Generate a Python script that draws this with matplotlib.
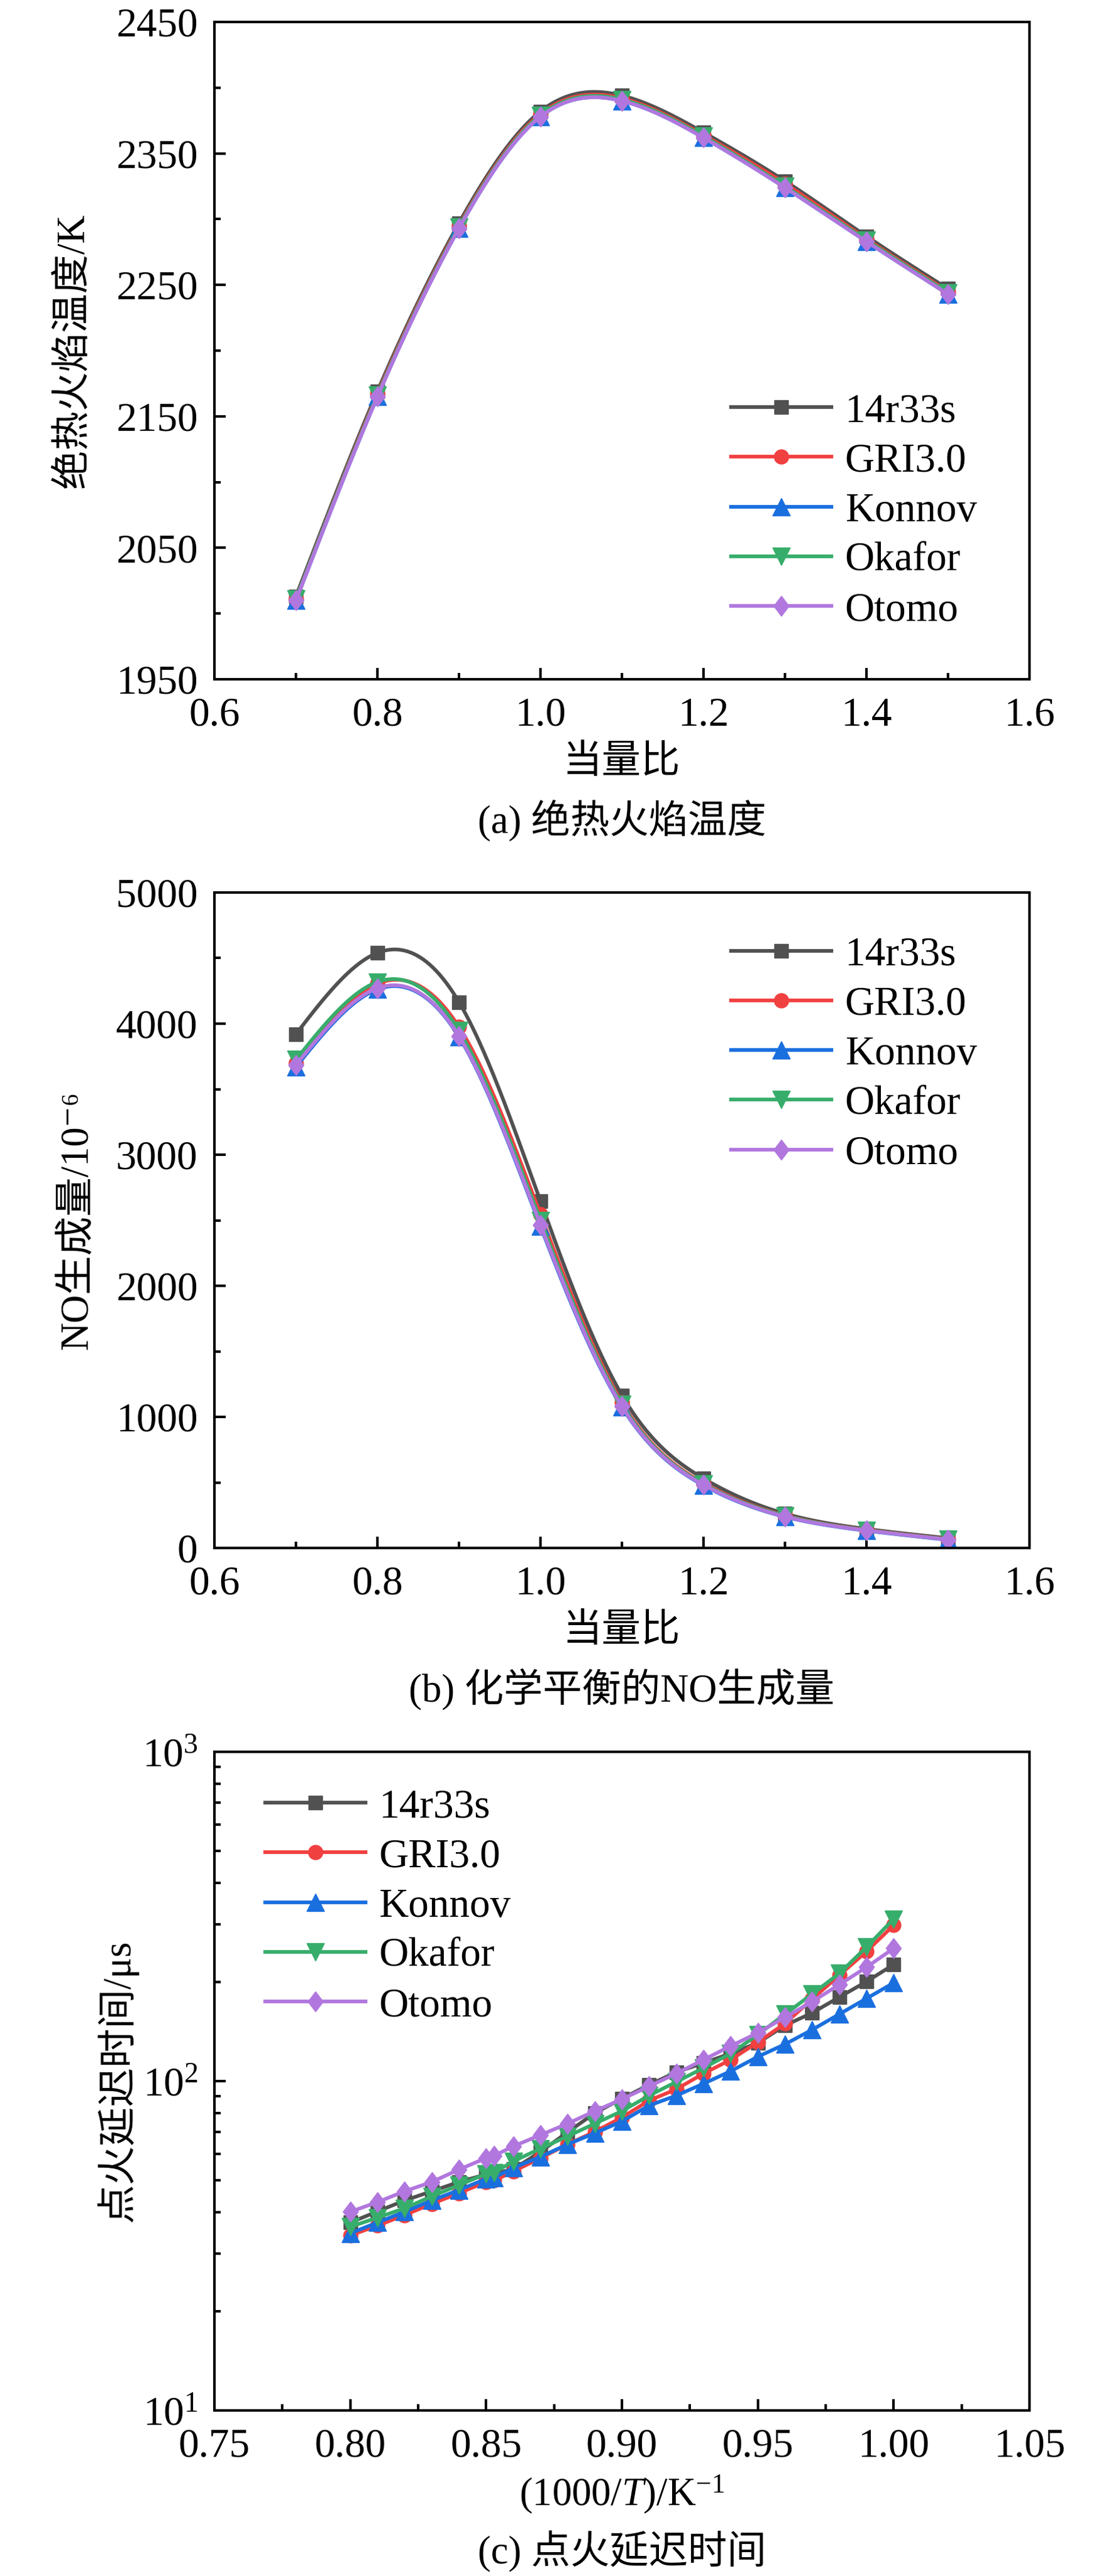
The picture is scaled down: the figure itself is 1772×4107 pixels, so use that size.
import numpy as np
import matplotlib
matplotlib.use('Agg')
from matplotlib import pyplot as plt
from matplotlib.lines import Line2D
from matplotlib.ticker import MultipleLocator, FormatStrFormatter, LogLocator, NullFormatter

plt.rcParams['font.family'] = ['Liberation Serif', 'DejaVu Serif', 'Noto Sans CJK SC']
plt.rcParams['mathtext.fontset'] = 'custom'
plt.rcParams['mathtext.rm'] = 'Liberation Serif'
plt.rcParams['mathtext.it'] = 'Liberation Serif:italic'

# ---- data ----
names = ['14r33s', 'GRI3.0', 'Konnov', 'Okafor', 'Otomo']

phi = [0.7, 0.8, 0.9, 1.0, 1.1, 1.2, 1.3, 1.4, 1.5]

# (a) adiabatic flame temperature, K
temp_14r33s = [2013, 2169, 2297, 2382, 2394, 2366, 2329, 2287, 2247]
temp_gri = [2011, 2167, 2295, 2380, 2392, 2364, 2327, 2285, 2245]
temp_konnov = [2010, 2165, 2293, 2378, 2390, 2362, 2324, 2283, 2243]
temp_okafor = [2011, 2166, 2294, 2379, 2391, 2363, 2325, 2284, 2244]
temp_otomo = [2010, 2165, 2293, 2378, 2390, 2362, 2324, 2283, 2243]

# (b) equilibrium NO, 1e-6
no_14r33s = [3920, 4540, 4165, 2645, 1165, 530, 262, 145, 75]
no_gri = [3700, 4305, 3975, 2545, 1110, 495, 248, 138, 68]
no_konnov = [3670, 4262, 3900, 2455, 1075, 478, 238, 132, 62]
no_okafor = [3725, 4318, 3945, 2500, 1095, 488, 245, 136, 66]
no_otomo = [3685, 4270, 3905, 2465, 1080, 482, 240, 134, 64]

# (c) ignition delay time, us
inv_t = [0.80, 0.81, 0.82, 0.83, 0.84, 0.85, 0.853, 0.86, 0.87, 0.88, 0.89,
         0.90, 0.91, 0.92, 0.93, 0.94, 0.95, 0.96, 0.97, 0.98, 0.99, 1.00]
idt_14r33s = [37.2, 40.2, 43.4, 46.3, 49.4, 52.1, 52.5, 54.0, 61.0, 70.0, 80.0,
              88.5, 97.5, 106.4, 113.5, 121.3, 130.6, 147.6, 161.1, 179.9, 200.5, 225.9]
idt_gri = [34.0, 36.4, 39.2, 42.4, 45.7, 49.4, 49.9, 53.2, 58.4, 64.3, 70.2,
           77.6, 87.3, 94.5, 105.4, 116.1, 131.2, 149.6, 177.5, 209.6, 247.6, 297.5]
idt_konnov = [34.5, 37.2, 40.1, 43.4, 46.7, 50.5, 51.0, 54.5, 58.9, 64.3, 69.5,
              75.5, 84.3, 90.4, 98.2, 107.2, 118.6, 129.4, 143.2, 159.7, 178.2, 198.7]
idt_okafor = [36.1, 38.5, 41.1, 44.7, 48.3, 52.3, 52.8, 57.1, 62.4, 68.0, 74.3,
              81.1, 90.4, 99.5, 109.6, 121.3, 138.3, 159.7, 183.8, 212.3, 255.3, 310.7]
idt_otomo = [40.1, 42.9, 46.3, 49.4, 53.9, 58.4, 59.4, 63.4, 68.6, 74.3, 81.1,
             88.1, 96.5, 105.4, 116.1, 127.8, 140.1, 156.3, 174.3, 196.3, 221.8, 253.0]

colors = ['#515151', '#F14040', '#1A6FDF', '#37AD6B', '#B177DE']
diamond = [(0, 1), (0.76, 0), (0, -1), (-0.76, 0), (0, 1)]
markers = ['s', 'o', '^', 'v', diamond]
msizes = [16.5, 16.5, 20, 20, 23]
LW = 4.2
FS_TICK = 47
FS_LAB = 45

W, H = 1772, 4107


def smooth(x, y, n=400):
    # natural cubic spline, only used to draw the connecting curve
    x = np.asarray(x, float)
    y = np.asarray(y, float)
    h = np.diff(x)
    m = len(x)
    A = np.zeros((m, m))
    r = np.zeros(m)
    A[0, 0] = A[-1, -1] = 1
    for i in range(1, m - 1):
        A[i, i - 1] = h[i - 1]
        A[i, i] = 2 * (h[i - 1] + h[i])
        A[i, i + 1] = h[i]
        r[i] = 3 * ((y[i + 1] - y[i]) / h[i] - (y[i] - y[i - 1]) / h[i - 1])
    c = np.linalg.solve(A, r)
    b = (y[1:] - y[:-1]) / h - h * (2 * c[:-1] + c[1:]) / 3
    d = (c[1:] - c[:-1]) / (3 * h)
    xs = np.linspace(x[0], x[-1], n)
    idx = np.clip(np.searchsorted(x, xs) - 1, 0, m - 2)
    dx = xs - x[idx]
    return xs, y[idx] + b[idx] * dx + c[idx] * dx ** 2 + d[idx] * dx ** 3


fig = plt.figure(figsize=(W / 100, H / 100), dpi=100)


def make_axes(top_px, bot_px):
    return fig.add_axes([342 / W, 1 - bot_px / H, 1300 / W, (bot_px - top_px) / H])


def style(ax, top_px, bot_px, ylab_x):
    for s in ax.spines.values():
        s.set_linewidth(2.9)
    ax.tick_params(which='both', direction='in', top=False, right=False,
                   width=2.9, labelsize=FS_TICK)
    ax.tick_params(which='major', length=13)
    ax.tick_params(which='minor', length=7)
    ax.tick_params(axis='x', pad=20)
    ax.tick_params(axis='y', pad=19)
    hpx = bot_px - top_px
    ax.xaxis.set_label_coords(0.5, -134 / hpx)
    ax.yaxis.set_label_coords((ylab_x - 342) / 1300, 0.5)


def legend(ax, x, y):
    handles = [Line2D([], [], color=c, lw=LW, marker=m, ms=s, mec=c, mfc=c)
               for c, m, s in zip(colors, markers, msizes)]
    ax.legend(handles, names, loc='center left', bbox_to_anchor=(x, y),
              frameon=False, fontsize=FS_TICK, handlelength=2.45,
              handletextpad=0.33, labelspacing=0.3, borderpad=0,
              borderaxespad=0, numpoints=1)


def caption(text, bot_px):
    fig.text(992 / W, 1 - (bot_px + 225) / H, text, ha='center', va='center',
             fontsize=FS_LAB)


# ---- (a) ----
top, bot = 35, 1083
ax = make_axes(top, bot)
for ys, c, m, s in zip([temp_14r33s, temp_gri, temp_konnov, temp_okafor, temp_otomo],
                       colors, markers, msizes):
    xs, yy = smooth(phi, ys)
    ax.plot(xs, yy, color=c, lw=LW)
    ax.plot(phi, ys, ls='none', marker=m, ms=s, color=c, mec=c)
ax.set_xlim(0.6, 1.6)
ax.set_ylim(1950, 2450)
ax.xaxis.set_major_locator(MultipleLocator(0.2))
ax.xaxis.set_minor_locator(MultipleLocator(0.1))
ax.xaxis.set_major_formatter(FormatStrFormatter('%.1f'))
ax.set_yticks(np.arange(1950, 2451, 100))
ax.set_yticks(np.arange(2000, 2450, 100), minor=True)
ax.set_xlabel('当量比', fontsize=FS_LAB, va='center')
ax.set_ylabel('绝热火焰温度/K', fontsize=FS_LAB, va='center')
style(ax, top, bot, 118)
legend(ax, 0.634, 0.256)
caption('(a) 绝热火焰温度', bot)

# ---- (b) ----
top, bot = 1423, 2468
ax = make_axes(top, bot)
for ys, c, m, s in zip([no_14r33s, no_gri, no_konnov, no_okafor, no_otomo],
                       colors, markers, msizes):
    xs, yy = smooth(phi, ys)
    ax.plot(xs, yy, color=c, lw=LW)
    ax.plot(phi, ys, ls='none', marker=m, ms=s, color=c, mec=c)
ax.set_xlim(0.6, 1.6)
ax.set_ylim(0, 5000)
ax.xaxis.set_major_locator(MultipleLocator(0.2))
ax.xaxis.set_minor_locator(MultipleLocator(0.1))
ax.xaxis.set_major_formatter(FormatStrFormatter('%.1f'))
ax.yaxis.set_major_locator(MultipleLocator(1000))
ax.yaxis.set_minor_locator(MultipleLocator(500))
ax.set_xlabel('当量比', fontsize=FS_LAB, va='center')
ax.set_ylabel('NO生成量/10⁻⁶', fontsize=FS_LAB, va='center')
style(ax, top, bot, 124)
legend(ax, 0.634, 0.753)
caption('(b) 化学平衡的NO生成量', bot)

# ---- (c) ----
top, bot = 2793, 3843
ax = make_axes(top, bot)
for ys, c, m, s in zip([idt_14r33s, idt_gri, idt_konnov, idt_okafor, idt_otomo],
                       colors, markers, msizes):
    ax.plot(inv_t, ys, color=c, lw=LW, marker=m, ms=s, mec=c)
ax.set_yscale('log')
ax.set_xlim(0.75, 1.05)
ax.set_ylim(10, 1000)
ax.xaxis.set_major_locator(MultipleLocator(0.05))
ax.xaxis.set_minor_locator(MultipleLocator(0.025))
ax.xaxis.set_major_formatter(FormatStrFormatter('%.2f'))
ax.yaxis.set_major_locator(LogLocator(base=10))
ax.yaxis.set_minor_locator(LogLocator(base=10, subs=np.arange(2, 10)))
ax.yaxis.set_minor_formatter(NullFormatter())
ax.set_xlabel('(1000/$\\mathit{T}$)/K$^{-1}$', fontsize=FS_LAB, va='center')
ax.set_ylabel('点火延迟时间/μs', fontsize=FS_LAB, va='center')
style(ax, top, bot, 187)
legend(ax, 0.062, 0.765)
caption('(c) 点火延迟时间', bot)

plt.savefig('out.png', dpi=100)
